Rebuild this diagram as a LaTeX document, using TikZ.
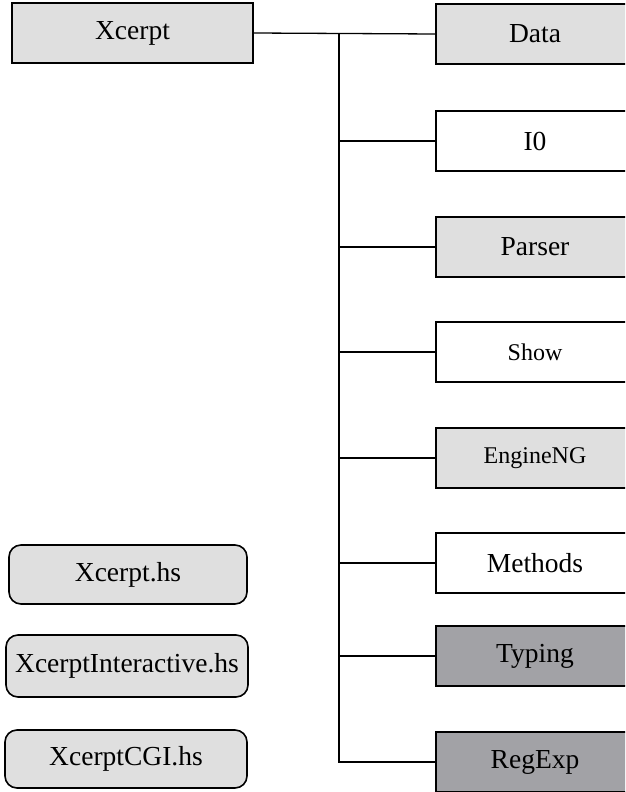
\documentclass[tikz,border=0pt]{standalone}
\usepackage{fontspec}
\setmainfont{Liberation Serif}
\definecolor{lightbox}{HTML}{DFDFDF}
\definecolor{darkbox}{HTML}{A2A2A6}
\begin{document}
\begin{tikzpicture}[x=1pt,y=-1pt,
  modbox/.style={draw=black,line width=1.6pt,rectangle,inner sep=0pt,
     minimum width=198pt,minimum height=60pt,font=\fontsize{27.5}{32}\selectfont},
  smalltext/.style={font=\fontsize{24}{28}\selectfont},
  lightmod/.style={modbox,fill=lightbox},
  whitemod/.style={modbox,fill=white},
  darkmod/.style={modbox,fill=darkbox},
  filebox/.style={draw=black,line width=1.6pt,rounded corners=12pt,fill=lightbox,
     inner sep=0pt,font=\fontsize{27.5}{32}\selectfont},
  conn/.style={draw=black,line width=1.3pt}]
\useasboundingbox (0,0) rectangle (625,792);
\begin{scope}
\clip (0,0) rectangle (625,792);
\node[lightmod,minimum width=241pt] (xcerpt) at (132.5,33) {Xcerpt};
\node[lightmod] (data) at (535,34) {Data};
\node[whitemod] (io) at (535,141) {I0};
\node[lightmod] (parser) at (535,247) {Parser};
\node[whitemod,smalltext] (show) at (535,352) {Show};
\node[lightmod,smalltext] (engine) at (535,458) {EngineNG};
\node[whitemod] (methods) at (535,563) {Methods};
\node[darkmod] (typing) at (535,656) {Typing};
\node[darkmod] (regexp) at (535,762) {RegExp};

\node[filebox,minimum width=238pt,minimum height=59pt] (fmain) at (128,574.5) {Xcerpt.hs};
\node[filebox,minimum width=242pt,minimum height=62pt] (finter) at (127,666) {XcerptInteractive.hs};
\node[filebox,minimum width=242pt,minimum height=58pt] (fcgi) at (126,759) {XcerptCGI.hs};

\coordinate (top) at (339,33);
\coordinate (bottom) at (339,762);
\draw[conn] (xcerpt.east) -- (data.west);
\draw[conn] (top) -- (bottom) -- (regexp.west);
\foreach \n in {io,parser,show,engine,methods,typing}
  \draw[conn] (top |- \n.west) -- (\n.west);
\end{scope}
\end{tikzpicture}
\end{document}
